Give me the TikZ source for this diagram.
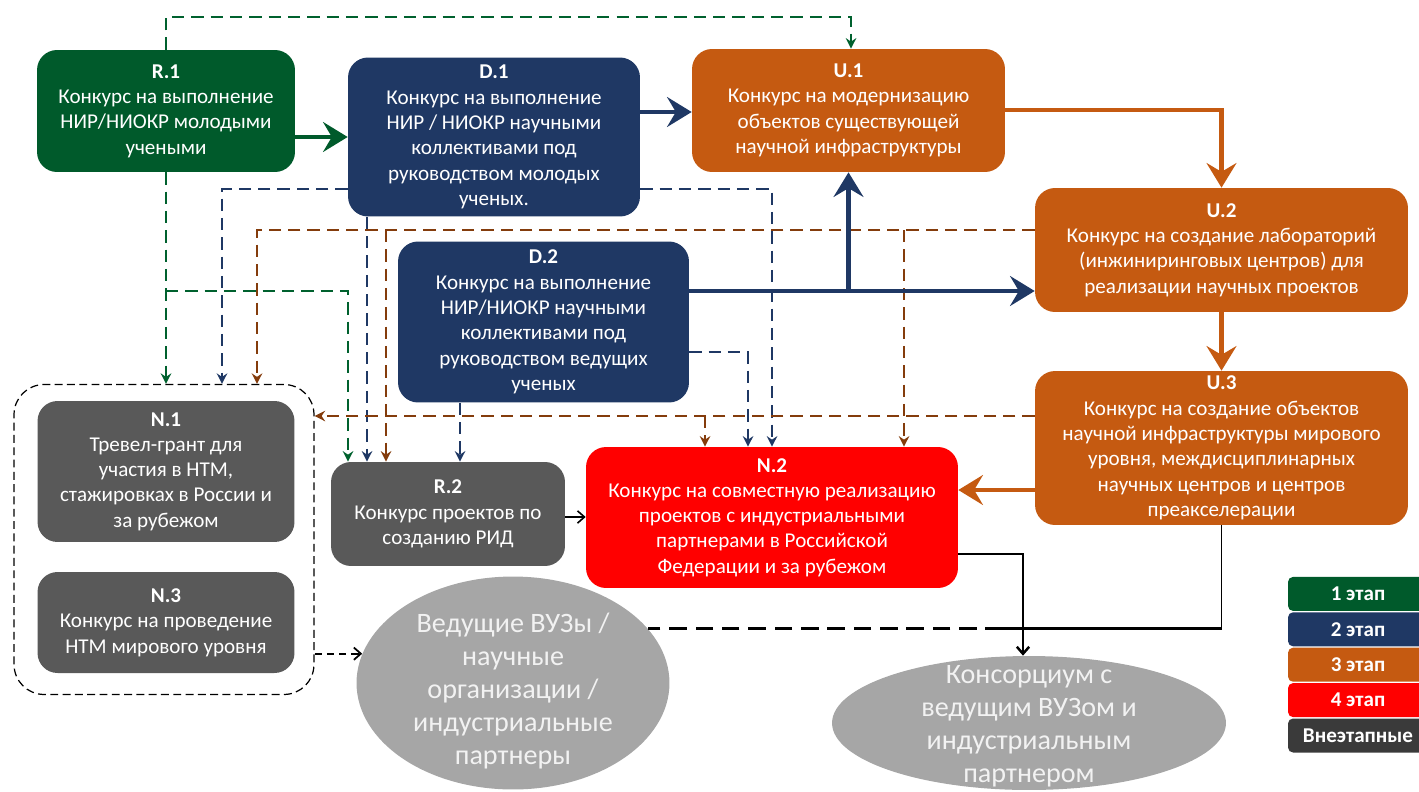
\documentclass[tikz,border=0pt]{standalone}
\usepackage{fontspec}
\setmainfont{Carlito}
\usetikzlibrary{arrows.meta,shapes.geometric,backgrounds}
\definecolor{stgreen}{HTML}{005A2B}
\definecolor{stnavy}{HTML}{1F3864}
\definecolor{storange}{HTML}{C55A11}
\definecolor{stred}{HTML}{FF0000}
\definecolor{stgray}{HTML}{595959}
\definecolor{stdark}{HTML}{3A3A3A}
\definecolor{stbrown}{HTML}{843C0C}
\definecolor{stdgreen}{HTML}{00612E}
\definecolor{ellgray}{HTML}{A6A6A6}
\tikzset{>={Stealth},
  box/.style={rounded corners=0.4cm, text=white, align=center, inner sep=0pt,
    font=\fontsize{12}{14.4}\selectfont},
  ell/.style={ellipse, fill=ellgray, text=white!95!black, align=center, inner sep=0pt,
    font=\fontsize{16}{18.7}\selectfont},
  legend/.style={rounded corners=0.1cm, text=white, inner sep=0pt,
    minimum width=2.8cm, minimum height=0.68cm, font=\fontsize{12}{14}\selectfont\bfseries},
  dashtip/.style={-{Stealth[length=6pt,width=6pt,inset=2pt]}},
  gdash/.style={stdgreen, line width=1.1pt, dash pattern=on 7pt off 4pt},
  ndash/.style={stnavy, line width=1.1pt, dash pattern=on 7pt off 4pt},
  bdash/.style={stbrown, line width=1.1pt, dash pattern=on 7pt off 4pt},
  bigarrow/.style={line width=2.8pt, -{Stealth[length=14pt,width=17pt,inset=5pt]}},
  thinarrow/.style={black, -{Straight Barb[length=4pt,width=7pt]}}
}
\newcommand{\ellstrut}[1]{\rule{0pt}{#1}}

\begin{document}
\begin{tikzpicture}[x=0.02cm, y=-0.02cm]
  \useasboundingbox (0,0) rectangle (1419,791);

  % Group of N.1 and N.3
  \node[draw, dashed, dash pattern=on 4.5pt off 2.5pt, line width=0.7pt, rounded corners=0.6cm,
    minimum width=6cm, minimum height=6.2cm] (G) at (164,539.5) {};

  % Boxes
  \node[box, fill=stgreen, minimum width=5.16cm, minimum height=2.44cm] (R1) at (166,111)
    {\textbf{R.1}\\Конкурс на выполнение\\НИР/НИОКР молодыми\\учеными};
  \node[box, fill=stnavy, minimum width=5.84cm, minimum height=3.18cm] (D1) at (494,137)
    {\textbf{D.1}\\Конкурс на выполнение\\НИР / НИОКР научными\\коллективами под\\руководством молодых\\ученых.};
  \node[box, fill=storange, minimum width=6.26cm, minimum height=2.46cm] (U1) at (848.5,110.5)
    {\textbf{U.1}\\Конкурс на модернизацию\\объектов существующей\\научной инфраструктуры};
  \node[box, fill=storange, minimum width=7.46cm, minimum height=2.48cm] (U2) at (1221.5,250)
    {\textbf{U.2}\\Конкурс на создание лабораторий\\(инжиниринговых центров) для\\реализации научных проектов};
  \node[box, fill=stnavy, minimum width=5.82cm, minimum height=3.22cm] (D2) at (543.5,322)
    {\textbf{D.2}\\Конкурс на выполнение\\НИР/НИОКР научными\\коллективами под\\руководством ведущих\\ученых};
  \node[box, fill=storange, minimum width=7.46cm, minimum height=3.08cm] (U3) at (1221.5,448)
    {\textbf{U.3}\\Конкурс на создание объектов\\научной инфраструктуры мирового\\уровня, междисциплинарных\\научных центров и центров\\преакселерации};
  \node[box, fill=stgray, minimum width=5.14cm, minimum height=2.82cm] (N1) at (166,471.5)
    {\textbf{N.1}\\Тревел-грант для\\участия в НТМ,\\стажировках в России и\\за рубежом};
  \node[box, fill=stgray, minimum width=5.14cm, minimum height=2.02cm] (N3) at (166,622.5)
    {\textbf{N.3}\\Конкурс на проведение\\НТМ мирового уровня};
  \node[box, fill=stgray, minimum width=4.68cm, minimum height=2.08cm] (R2) at (448,514)
    {\textbf{R.2}\\Конкурс проектов по\\созданию РИД};
  \node[box, fill=stred, minimum width=7.44cm, minimum height=2.82cm] (N2) at (772,517.5)
    {\textbf{N.2}\\Конкурс на совместную реализацию\\проектов с индустриальными\\партнерами в Российской\\Федерации и за рубежом};

  % Ellipses
  \node[ell, inner ysep=-0.45cm, minimum width=6.26cm, minimum height=4.26cm] (E1) at (513,683)
    {\ellstrut{20pt}Ведущие ВУЗы /\\научные\\организации /\\индустриальные\\партнеры};
  \node[ell, inner ysep=-0.6cm, minimum width=7.88cm, minimum height=2.68cm] (E2) at (1029,723)
    {\ellstrut{14pt}Консорциум с\\ведущим ВУЗом и\\индустриальным\\партнером};

  % Dashed links
  \begin{scope}[on background layer]
  \draw[gdash,dashtip] (R1.north) -- (R1.north |- 0,17) -| (851,0 |- U1.north);
  \draw[gdash,dashtip] (R1.south) -- (R1.south |- G.north);
  \draw[gdash,dashtip] (R1.south |- 0,291) -| (348,0 |- R2.north);
  \draw[ndash,dashtip] (D1.west |- 0,189) -| (222,0 |- G.north);
  \draw[ndash,dashtip] (D1.east |- 0,189) -| (772,0 |- N2.north);
  \draw[ndash,dashtip] (367,0 |- D1.south) -- (367,0 |- R2.north);
  \draw[ndash,dashtip] (460,0 |- D2.south) -- (460,0 |- R2.north);
  \draw[ndash,dashtip] (D2.east |- 0,352) -| (748,0 |- N2.north);
  \draw[bdash,dashtip] (U2.west |- 0,230) -| (257,0 |- G.north);
  \draw[bdash,dashtip] (386,230) -- (386,0 |- R2.north);
  \draw[bdash,dashtip] (904,230) -- (904,0 |- N2.north);
  \draw[bdash,dashtip] (U3.west |- 0,416) -- (G.east |- 0,416);
  \draw[bdash,dashtip] (705,416) -- (705,0 |- N2.north);
  \end{scope}

  % Solid arrows
  \draw[bigarrow, stgreen] (R1.east |- 0,137) -- (D1.west |- 0,137);
  \draw[bigarrow, stnavy] (D1.east |- 0,112) -- (U1.west |- 0,112);
  \draw[bigarrow, stnavy] (D2.east |- 0,291) -- (U2.west |- 0,291);
  \draw[bigarrow, stnavy] (U1.south |- 0,291) -- (U1.south);
  \draw[bigarrow, storange, line width=2.4pt] (U1.east |- 0,110) -| (U2.north);
  \draw[bigarrow, storange, line width=2.4pt] (U2.south) -- (U3.north);
  \draw[bigarrow, storange, line width=2.4pt] (U3.west |- 0,490) -- (N2.east |- 0,490);

  % Black links
  \coordinate (J) at (1003,628);
  \draw[thinarrow, line width=0.9pt] (R2.east |- 0,517) -- (N2.west |- 0,517);
  \draw[thinarrow, line width=1.4pt] (N2.east |- 0,554) -| (1023,0 |- E2.north);
  \draw[black, line width=0.6pt] (U3.south) -- (U3.south |- J);
  \draw[black, line width=1.7pt] (U3.south |- J) -- (J);
  \draw[black, line width=1.7pt, dash pattern=on 10pt off 5pt] (J) -- (E1.22 |- J);
  \draw[thinarrow, line width=1pt, dash pattern=on 4pt off 3pt] (G.east |- E1.169) -- (E1.169);

  % Legend
  \foreach \c/\t [count=\i] in {stgreen/1 этап, stnavy/2 этап, storange/3 этап, stred/4 этап, stdark/Внеэтапные}
    \node[legend, fill=\c] (L\i) at (1358,{558.5+35.4*\i}) {\t};
\end{tikzpicture}
\end{document}
